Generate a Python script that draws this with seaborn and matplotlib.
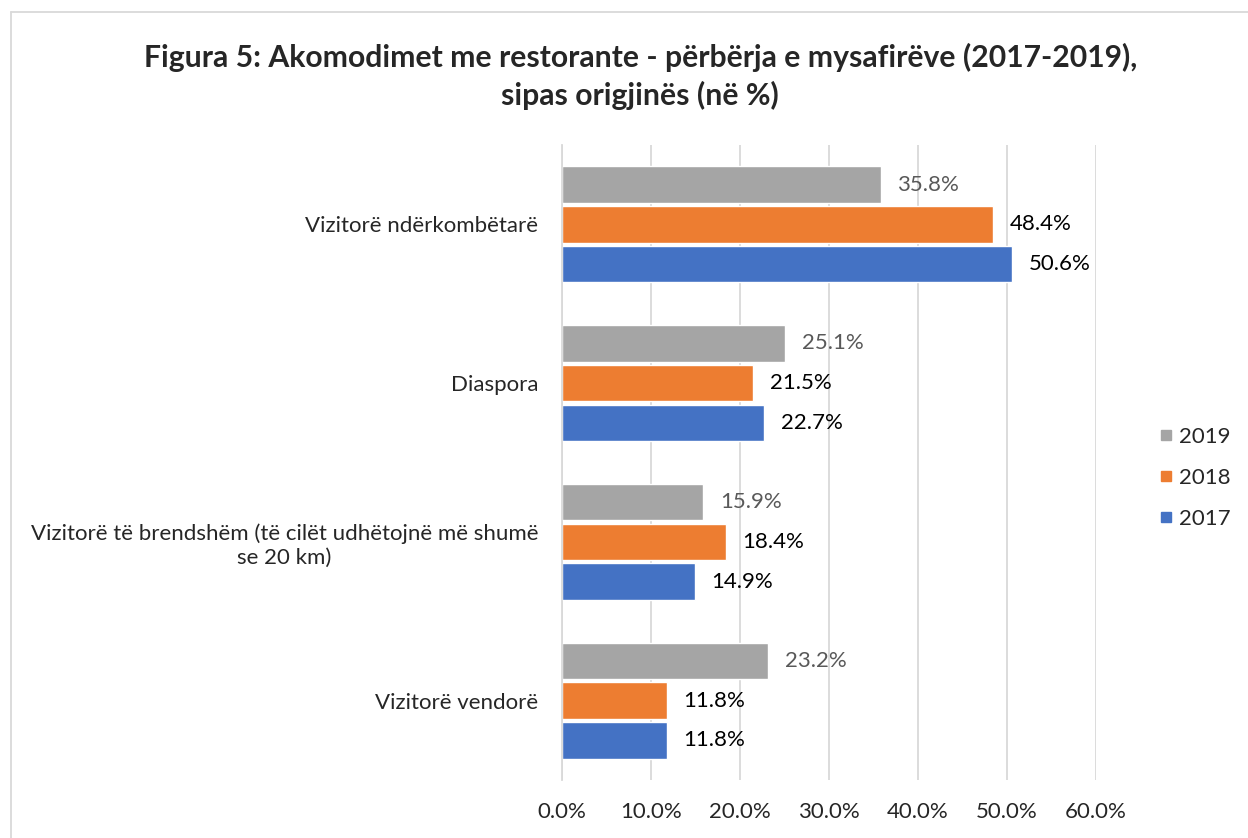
import pandas as pd
import matplotlib
matplotlib.use("Agg")
import matplotlib.pyplot as plt
from matplotlib.lines import Line2D
import seaborn as sns

categories = [
    "Vizitorë ndërkombëtarë",
    "Diaspora",
    "Vizitorë të brendshëm (të cilët udhëtojnë më shumë\nse 20 km)",
    "Vizitorë vendorë",
]
years = ["2019", "2018", "2017"]
values_2019 = [35.8, 25.1, 15.9, 23.2]
values_2018 = [48.4, 21.5, 18.4, 11.8]
values_2017 = [50.6, 22.7, 14.9, 11.8]
x_ticks = [0, 10, 20, 30, 40, 50, 60]

colors = {"2019": "#A5A5A5", "2018": "#ED7D31", "2017": "#4472C4"}
label_colors = {"2019": "#595959", "2018": "#000000", "2017": "#000000"}

rows = []
for yr, vals in zip(years, [values_2019, values_2018, values_2017]):
    for cat, v in zip(categories, vals):
        rows.append({"cat": cat, "year": yr, "value": v})
df = pd.DataFrame(rows)

sns.set_style("white")
plt.rcParams["font.family"] = ["Lato", "DejaVu Sans"]

fig = plt.figure(figsize=(12.48, 8.38), dpi=100)
ax = fig.add_axes([0.4503, 0.0692, 0.4279, 0.7578])

sns.barplot(data=df, y="cat", x="value", hue="year", hue_order=years,
            order=categories, orient="h", palette=colors, width=0.75,
            gap=0.08, saturation=1, ax=ax, legend=False, errorbar=None)

# data labels
for cont, yr in zip(ax.containers, years):
    labels = [f"{v:.1f}%" for v in cont.datavalues]
    ax.bar_label(cont, labels=labels, padding=12, fontsize=16,
                 color=label_colors[yr])

ax.set_xlim(0, 60)
ax.set_ylim(3.5, -0.5)
ax.set_xticks(x_ticks)
ax.set_xticklabels([f"{t:.1f}%" for t in x_ticks])
ax.xaxis.grid(True, color="#D9D9D9", linewidth=1.3)
ax.set_axisbelow(True)
ax.set_xlabel("")
ax.set_ylabel("")

for s in ["top", "right", "bottom"]:
    ax.spines[s].set_visible(False)
ax.spines["left"].set_color("#D9D9D9")
ax.spines["left"].set_linewidth(1.3)

ax.tick_params(axis="x", length=0, labelsize=16, pad=16)
ax.tick_params(axis="y", which="major", length=0, labelsize=16, pad=17)
ax.set_yticks([-0.5, 0.5, 1.5, 2.5, 3.5], minor=True)
ax.tick_params(axis="y", which="minor", length=7, color="#D9D9D9", width=1.3)
for lab in ax.get_yticklabels():
    lab.set_multialignment("center")

handles = [Line2D([], [], marker="s", linestyle="", markersize=7,
                  color=colors[y]) for y in years]
fig.legend(handles, years, loc="center left", bbox_to_anchor=(0.913, 0.4296),
           frameon=False, fontsize=16, handlelength=0.6, handletextpad=0.3,
           labelspacing=0.95)

fig.text(0.513, 0.909, "Figura 5: Akomodimet me restorante - përbërja e mysafirëve (2017-2019),\nsipas origjinës (në %)",
         ha="center", va="center", fontsize=21.7, fontweight="bold",
         linespacing=1.35)

# chart frame
fig.add_artist(Line2D([11 / 1248, 11 / 1248], [0, 1 - 12 / 838],
                      transform=fig.transFigure, color="#D9D9D9", linewidth=1.3))
fig.add_artist(Line2D([11 / 1248, 1], [1 - 12 / 838, 1 - 12 / 838],
                      transform=fig.transFigure, color="#D9D9D9", linewidth=1.3))

fig.savefig("out.png", dpi=100)
